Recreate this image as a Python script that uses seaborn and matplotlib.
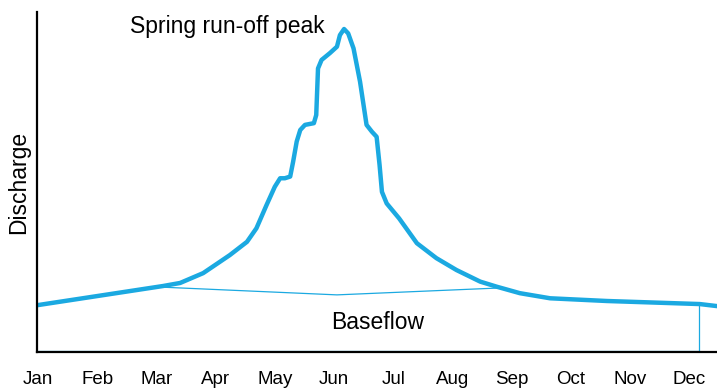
import numpy as np
import matplotlib
matplotlib.use("Agg")
import matplotlib.pyplot as plt
import seaborn as sns

# month labels along the x axis
months = ['Jan', 'Feb', 'Mar', 'Apr', 'May', 'Jun',
          'Jul', 'Aug', 'Sep', 'Oct', 'Nov', 'Dec']

# hydrograph (x in months from Jan, discharge in arbitrary % units)
flow_t = [0.00, 2.11, 2.40, 2.79, 3.24, 3.53, 3.69, 3.86, 4.00, 4.09,
          4.17, 4.26, 4.31, 4.37, 4.43, 4.51, 4.66, 4.70, 4.73, 4.79,
          4.93, 5.05, 5.10, 5.17, 5.24, 5.33, 5.44, 5.55, 5.64, 5.72,
          5.77, 5.81, 5.89, 6.10, 6.40, 6.73, 7.07, 7.47, 7.75, 8.14,
          8.65, 9.61, 11.18, 11.47]
flow_q = [13.8, 19.4, 20.3, 23.2, 28.5, 32.4, 36.4, 43.2, 48.6, 51.1,
          51.1, 51.6, 56.0, 61.9, 65.3, 66.8, 67.3, 69.7, 83.4, 85.9,
          87.9, 89.8, 93.2, 95.0, 93.7, 89.3, 79.5, 66.8, 64.8, 63.3,
          55.0, 47.1, 43.7, 39.3, 32.0, 27.6, 24.1, 20.7, 19.2, 17.3,
          15.8, 15.0, 14.1, 13.5]

# baseflow separation line
base_t = [2.06, 5.05, 7.75]
base_q = [19.1, 16.8, 18.8]

# end of the water year marker
end_t = 11.17
end_q = 14.1

blue = '#1BA9E1'

sns.set_style("white")
plt.rcParams['font.family'] = ['Liberation Sans', 'DejaVu Sans']
plt.rcParams['text.color'] = 'black'

fig = plt.figure(figsize=(7.17, 3.89), dpi=100)
ax = fig.add_axes([37/717, 37/389, 680/717, 340/389])

sns.lineplot(x=flow_t, y=flow_q, ax=ax, color=blue, linewidth=3.2,
             sort=False, estimator=None)
ax.lines[-1].set_solid_joinstyle('round')
ax.lines[-1].set_solid_capstyle('round')
sns.lineplot(x=base_t, y=base_q, ax=ax, color=blue, linewidth=0.9,
             sort=False, estimator=None)
ax.plot([0, end_t], [0.4, 0.4], color=blue, linewidth=0.9)
ax.plot([end_t, end_t], [0.4, end_q], color=blue, linewidth=0.9)

ax.text(3.19, 95.6, 'Spring run-off peak', fontsize=16.5, color='black',
        ha='center', va='center')
ax.text(5.73, 8.8, 'Baseflow', fontsize=16.5, color='black',
        ha='center', va='center')

ax.set_xlim(-0.017, 11.47)
ax.set_ylim(0, 100)
ax.set_xticks(range(12))
ax.set_xticklabels(months, fontsize=13.5, color='black')
ax.set_yticks([])
ax.tick_params(axis='x', length=0, pad=14)
ax.set_ylabel('Discharge', fontsize=16.5, labelpad=5, color='black')

sns.despine(ax=ax)
for s in ['left', 'bottom']:
    ax.spines[s].set_color('black')
    ax.spines[s].set_linewidth(1.6)

plt.savefig('out.png', dpi=100)
